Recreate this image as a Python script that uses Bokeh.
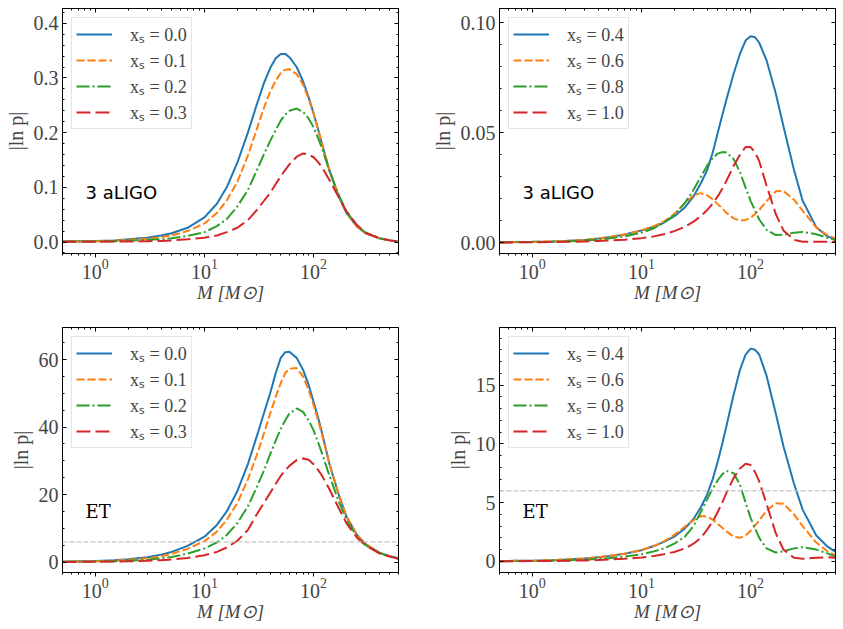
from bokeh.plotting import figure
from bokeh.models import (Range1d, LogAxis, LinearAxis, FixedTicker, SingleIntervalTicker,
                          Legend, LegendItem, Span, Label, CustomJSTickFormatter,
                          PrintfTickFormatter)
from bokeh.layouts import gridplot
from bokeh.embed import file_html
from bokeh.resources import INLINE

# ---------------- data ----------------
mass = [0.5, 0.7, 1, 1.5, 2, 3, 4, 5, 7, 10, 13, 16, 20, 25, 30, 35, 40, 45, 50, 55, 60, 70,
        80, 90, 100, 110, 120, 140, 170, 200, 250, 300, 400, 500, 600]

# 3 aLIGO, x_s = 0.0 .. 0.3
aligo_x00 = [0.001, 0.0015, 0.002, 0.003, 0.005, 0.008, 0.012, 0.016, 0.026, 0.045, 0.07, 0.10,
             0.145, 0.20, 0.25, 0.29, 0.318, 0.336, 0.344, 0.344, 0.338, 0.320, 0.294, 0.265, 0.235,
             0.206, 0.178, 0.13, 0.083, 0.053, 0.028, 0.016, 0.007, 0.003, 0.001]
aligo_x01 = [0.001, 0.0012, 0.0015, 0.0025, 0.004, 0.006, 0.009, 0.012, 0.02, 0.034, 0.053, 0.076,
             0.11, 0.158, 0.205, 0.245, 0.275, 0.295, 0.309, 0.315, 0.316, 0.307, 0.288, 0.262, 0.235,
             0.206, 0.178, 0.131, 0.084, 0.054, 0.028, 0.016, 0.007, 0.003, 0.001]
aligo_x02 = [0.0005, 0.0008, 0.001, 0.0015, 0.0025, 0.004, 0.005, 0.007, 0.011, 0.018, 0.029, 0.042,
             0.065, 0.095, 0.13, 0.16, 0.185, 0.205, 0.222, 0.233, 0.24, 0.244, 0.238, 0.226, 0.21,
             0.19, 0.17, 0.13, 0.086, 0.056, 0.03, 0.017, 0.007, 0.003, 0.001]
aligo_x03 = [0.0003, 0.0004, 0.0005, 0.0008, 0.001, 0.0015, 0.002, 0.003, 0.005, 0.008, 0.012, 0.018,
             0.026, 0.04, 0.058, 0.075, 0.09, 0.106, 0.12, 0.132, 0.142, 0.156, 0.162, 0.16, 0.155,
             0.146, 0.136, 0.113, 0.082, 0.056, 0.031, 0.017, 0.007, 0.003, 0.001]

# 3 aLIGO, x_s = 0.4 .. 1.0
aligo_x04 = [0.0001, 0.0002, 0.0003, 0.0005, 0.0007, 0.0012, 0.0018, 0.0024, 0.0037, 0.0055, 0.0072, 0.009,
             0.012, 0.016, 0.021, 0.027, 0.033, 0.041, 0.05, 0.058, 0.065, 0.077, 0.086, 0.092, 0.094,
             0.0935, 0.091, 0.083, 0.068, 0.053, 0.033, 0.019, 0.007, 0.003, 0.0012]
aligo_x06 = [0.0001, 0.0002, 0.0003, 0.0005, 0.0007, 0.0012, 0.0018, 0.0024, 0.0037, 0.0055, 0.0075, 0.0095,
             0.013, 0.018, 0.0215, 0.0225, 0.0215, 0.0197, 0.0175, 0.0155, 0.0135, 0.011, 0.010, 0.0103, 0.0113,
             0.013, 0.0148, 0.0188, 0.0233, 0.0235, 0.0195, 0.0145, 0.0068, 0.0035, 0.0018]
aligo_x08 = [0.0001, 0.0001, 0.0002, 0.0003, 0.0005, 0.0009, 0.0013, 0.0018, 0.0028, 0.0045, 0.0065, 0.009,
             0.0125, 0.018, 0.024, 0.03, 0.035, 0.0385, 0.0405, 0.0412, 0.041, 0.038, 0.032, 0.025, 0.019,
             0.0145, 0.0105, 0.0058, 0.0034, 0.0035, 0.0045, 0.0048, 0.0038, 0.0022, 0.0012]
aligo_x10 = [0.0, 0.0001, 0.0001, 0.0002, 0.0003, 0.0005, 0.0007, 0.0009, 0.0013, 0.002, 0.0028, 0.0038,
             0.0052, 0.0072, 0.0095, 0.012, 0.0148, 0.0178, 0.021, 0.0245, 0.028, 0.035, 0.04, 0.0435, 0.0435,
             0.041, 0.037, 0.026, 0.013, 0.0055, 0.0012, 0.0004, 0.0003, 0.0004, 0.0004]

# ET, x_s = 0.0 .. 0.3
et_x00 = [0.1, 0.2, 0.3, 0.5, 0.8, 1.4, 2.2, 3.0, 4.8, 7.5, 11, 15, 21, 29, 37, 44, 50, 56, 60.5, 62.2, 62.3,
          60.5, 57, 52.5, 47.5, 42.8, 38, 29, 20, 13.5, 8, 5.3, 2.8, 1.7, 1.1]
et_x01 = [0.1, 0.15, 0.25, 0.4, 0.65, 1.1, 1.7, 2.4, 3.9, 6.2, 9, 12.5, 17.5, 24.5, 31.5, 38, 44, 49, 53, 56, 57.3,
          57.5, 55, 51, 46.5, 42, 37.5, 29, 20, 13.5, 8, 5.3, 2.8, 1.7, 1.1]
et_x02 = [0.05, 0.1, 0.15, 0.25, 0.4, 0.7, 1.1, 1.5, 2.5, 4.0, 5.8, 8, 11.5, 16.5, 22, 27, 32, 36, 39.5, 42, 44,
          45.5, 44.5, 42, 39, 35.5, 32, 25.5, 18, 12.5, 7.5, 5.0, 2.7, 1.6, 1.0]
et_x03 = [0.03, 0.05, 0.08, 0.13, 0.2, 0.35, 0.55, 0.75, 1.2, 2.0, 3.0, 4.3, 6.3, 9.5, 14, 17.5, 20.5, 23.2, 25.5, 27.2,
          28.5, 30.2, 30.7, 30.3, 29, 27.3, 25.5, 21.5, 16, 11.5, 7.2, 4.9, 2.6, 1.6, 1.0]

# ET, x_s = 0.4 .. 1.0
et_x04 = [0.02, 0.04, 0.06, 0.1, 0.15, 0.25, 0.35, 0.45, 0.65, 0.95, 1.3, 1.65, 2.1, 2.8, 3.6, 4.6, 5.7, 7.0, 8.5, 10.0,
          11.5, 14.2, 16.3, 17.6, 18.1, 18.0, 17.6, 15.8, 12.6, 9.8, 6.6, 4.4, 2.2, 1.3, 0.8]
et_x06 = [0.02, 0.04, 0.06, 0.1, 0.15, 0.25, 0.35, 0.45, 0.65, 0.95, 1.3, 1.7, 2.25, 2.95, 3.5, 3.85, 3.8, 3.55, 3.2, 2.85,
          2.55, 2.1, 2.0, 2.2, 2.6, 3.05, 3.5, 4.3, 4.95, 4.9, 4.0, 3.0, 1.6, 0.9, 0.5]
et_x08 = [0.01, 0.02, 0.03, 0.05, 0.08, 0.14, 0.2, 0.27, 0.4, 0.6, 0.85, 1.1, 1.5, 2.1, 3.0, 4.2, 5.3, 6.2, 6.9, 7.4,
          7.7, 7.5, 6.5, 5.0, 3.7, 2.8, 2.0, 1.1, 0.75, 0.85, 1.1, 1.2, 1.0, 0.7, 0.4]
et_x10 = [0.01, 0.01, 0.02, 0.03, 0.05, 0.08, 0.11, 0.15, 0.22, 0.33, 0.45, 0.6, 0.8, 1.1, 1.5, 2.0, 2.7, 3.4, 4.2, 5.0,
          5.8, 7.1, 7.9, 8.3, 8.2, 7.6, 6.8, 4.9, 2.4, 1.0, 0.3, 0.22, 0.3, 0.35, 0.3]

labels_low = ["xₛ = 0.0", "xₛ = 0.1", "xₛ = 0.2", "xₛ = 0.3"]
labels_high = ["xₛ = 0.4", "xₛ = 0.6", "xₛ = 0.8", "xₛ = 1.0"]

et_threshold = 6.0

x_major = [1, 10, 100]
x_minor = [0.5, 0.6, 0.7, 0.8, 0.9, 2, 3, 4, 5, 6, 7, 8, 9,
           20, 30, 40, 50, 60, 70, 80, 90, 200, 300, 400, 500, 600]

# ---------------- style ----------------
SERIF = "Liberation Serif"
COLORS = ["#1f77b4", "#ff7f0e", "#2ca02c", "#d62728"]
DASHES = ["solid", "8 3", "13 3 2 3", "14 5"]
TICK_FS = "20px"


def blank_formatter():
    return CustomJSTickFormatter(code="return ''")


def make_panel(series, labels, ylim, interval, n_minor, yfmt, det_text, det_font, threshold,
               mb_top, mb_bottom, mb_left, mb_right):
    p = figure(frame_width=336, frame_height=245, x_axis_type="log",
               x_range=Range1d(0.5, 600), y_range=Range1d(*ylim),
               output_backend="svg", toolbar_location=None,
               min_border_top=mb_top, min_border_bottom=mb_bottom,
               min_border_left=mb_left, min_border_right=mb_right)
    p.xgrid.visible = False
    p.ygrid.visible = False
    p.outline_line_color = "black"
    p.outline_line_width = 1
    p.background_fill_color = "white"
    p.border_fill_color = "white"

    xt = FixedTicker(ticks=x_major, minor_ticks=x_minor)
    yt = SingleIntervalTicker(interval=interval, num_minor_ticks=n_minor)

    xa = p.xaxis[0]
    xa.ticker = xt
    xa.axis_label = "M [M⊙]"
    xa.axis_label_text_font = SERIF
    xa.axis_label_text_font_size = "19px"
    xa.axis_label_text_font_style = "italic"
    xa.axis_label_standoff = 0
    xa.major_label_text_font = SERIF
    xa.major_label_text_font_size = TICK_FS
    xa.major_label_standoff = 1
    xa.major_tick_in = 0
    xa.major_tick_out = 4
    xa.minor_tick_in = 0
    xa.minor_tick_out = 2
    xa.axis_line_color = "black"
    xa.major_tick_line_color = "black"
    xa.minor_tick_line_color = "black"

    ya = p.yaxis[0]
    ya.ticker = yt
    ya.formatter = PrintfTickFormatter(format=yfmt)
    ya.axis_label = "|ln p|"
    ya.axis_label_text_font = SERIF
    ya.axis_label_text_font_size = "20px"
    ya.axis_label_text_font_style = "normal"
    ya.axis_label_standoff = 4
    ya.major_label_text_font = SERIF
    ya.major_label_text_font_size = TICK_FS
    ya.major_label_standoff = 4
    ya.major_tick_in = 4
    ya.major_tick_out = 0
    ya.minor_tick_in = 2
    ya.minor_tick_out = 0
    ya.axis_line_color = "black"

    top = LogAxis(ticker=FixedTicker(ticks=x_major, minor_ticks=x_minor),
                  formatter=blank_formatter(), major_label_text_font_size="0px",
                  major_label_standoff=0, major_tick_in=4, major_tick_out=0,
                  minor_tick_in=2, minor_tick_out=0, axis_line_color="black")
    p.add_layout(top, "above")
    right = LinearAxis(ticker=SingleIntervalTicker(interval=interval, num_minor_ticks=n_minor),
                       formatter=blank_formatter(), major_label_text_font_size="0px",
                       major_label_standoff=0, major_tick_in=4, major_tick_out=0,
                       minor_tick_in=2, minor_tick_out=0, axis_line_color="black")
    p.add_layout(right, "right")

    if threshold is not None:
        p.add_layout(Span(location=threshold, dimension="width", line_color="#c4c4c4",
                          line_dash="5 2", line_width=1.2))

    items = []
    for ys, lab, col, dash in zip(series, labels, COLORS, DASHES):
        r = p.line(mass, ys, line_color=col, line_width=2, line_dash=dash)
        items.append(LegendItem(label=lab, renderers=[r]))

    legend = Legend(items=items, location="top_left", margin=9, padding=2, spacing=2,
                    glyph_width=36, glyph_height=18, label_height=18, label_standoff=18,
                    label_text_font=SERIF, label_text_font_size="18px",
                    border_line_color="#cccccc", border_line_width=1,
                    background_fill_color="white", background_fill_alpha=0.8)
    legend.padding = 4
    p.add_layout(legend)

    p.add_layout(Label(x=23, y=61, x_units="screen", y_units="screen", text=det_text,
                       text_font=det_font, text_font_size="18px", text_color="black",
                       text_baseline="alphabetic"))
    return p


p1 = make_panel([aligo_x00, aligo_x01, aligo_x02, aligo_x03], labels_low,
                (-0.021, 0.427), 0.1, 5, "%.1f", "3 aLIGO", "DejaVu Sans", None, 8, 52, 62, 30)
p2 = make_panel([aligo_x04, aligo_x06, aligo_x08, aligo_x10], labels_high,
                (-0.005, 0.1066), 0.05, 5, "%.2f", "3 aLIGO", "DejaVu Sans", None, 8, 52, 70, 8)
p3 = make_panel([et_x00, et_x01, et_x02, et_x03], labels_low,
                (-3.1, 69.5), 20, 4, "%d", "ET", "DejaVu Serif", et_threshold, 22, 50, 62, 30)
p4 = make_panel([et_x04, et_x06, et_x08, et_x10], labels_high,
                (-0.95, 19.9), 5, 5, "%d", "ET", "DejaVu Serif", et_threshold, 22, 50, 70, 8)

grid = gridplot([[p1, p2], [p3, p4]], toolbar_location=None)

open("out.html", "w").write(file_html(grid, INLINE))
